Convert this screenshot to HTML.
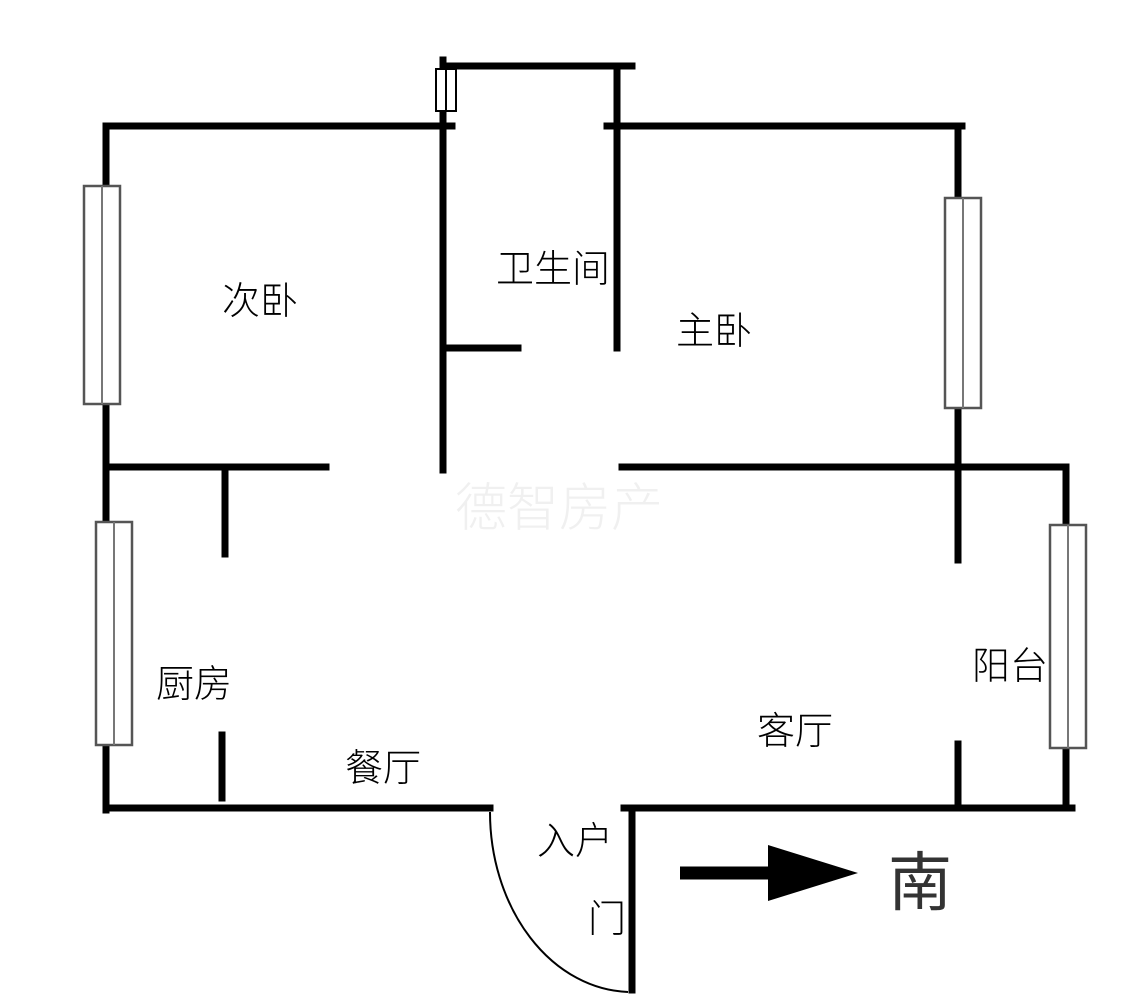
<!DOCTYPE html>
<html><head><meta charset="utf-8"><style>
html,body{margin:0;padding:0;background:#fff;}
svg{display:block;}
text{font-family:"Liberation Sans","Noto Sans CJK SC",sans-serif;font-weight:300;}
</style></head><body>
<svg width="1125" height="1006" viewBox="0 0 1125 1006" xmlns="http://www.w3.org/2000/svg">
<g stroke="#000" stroke-width="7" stroke-linecap="square" fill="none">
<line x1="106" y1="126" x2="452" y2="126"/>
<line x1="607" y1="126" x2="962" y2="126"/>
<line x1="443" y1="66" x2="632" y2="66"/>
<line x1="106" y1="126" x2="106" y2="810"/>
<line x1="443" y1="60" x2="443" y2="470"/>
<line x1="617" y1="66" x2="617" y2="348"/>
<line x1="443" y1="348" x2="518" y2="348"/>
<line x1="958" y1="126" x2="958" y2="560"/>
<line x1="106" y1="467" x2="326" y2="467"/>
<line x1="622" y1="467" x2="1066" y2="467"/>
<line x1="225" y1="467" x2="225" y2="554"/>
<line x1="222" y1="735" x2="222" y2="798"/>
<line x1="1066" y1="467" x2="1066" y2="808"/>
<line x1="958" y1="744" x2="958" y2="806"/>
<line x1="106" y1="808" x2="490" y2="808"/>
<line x1="624" y1="808" x2="1072" y2="808"/>
<line x1="632" y1="808" x2="632" y2="990"/>
</g>
<path d="M490 812 A142 180 0 0 0 628 992" stroke="#000" stroke-width="2" fill="none"/>
<g stroke="#555" stroke-width="2.5" fill="#fff">
<rect x="84" y="186" width="36" height="218"/>
<rect x="96" y="522" width="36" height="223"/>
<rect x="945" y="198" width="36" height="210"/>
<rect x="1050" y="525" width="36" height="223"/>
</g>
<g stroke="#777" stroke-width="2">
<line x1="102" y1="186" x2="102" y2="404"/>
<line x1="114" y1="522" x2="114" y2="745"/>
<line x1="963" y1="198" x2="963" y2="408"/>
<line x1="1068" y1="525" x2="1068" y2="748"/>
</g>
<rect x="436" y="69" width="20" height="42" fill="#fff" stroke="#000" stroke-width="2"/>
<line x1="446" y1="69" x2="446" y2="111" stroke="#000" stroke-width="2"/>
<line x1="680" y1="873" x2="780" y2="873" stroke="#000" stroke-width="13"/>
<polygon points="768,845 858,873 768,901" fill="#000"/>
<text x="888" y="905" font-size="64" fill="#333" style="font-weight:400">南</text>
<g font-size="38" fill="#000">
<text x="222" y="314">次卧</text>
<text x="496" y="282">卫生间</text>
<text x="676" y="344">主卧</text>
<text x="156" y="697">厨房</text>
<text x="345" y="781">餐厅</text>
<text x="757" y="744">客厅</text>
<text x="972" y="679">阳台</text>
<text x="537" y="854">入户</text>
<text x="588" y="932">门</text>
</g>
<text x="455" y="526" font-size="52" fill="#f0f0f0">德智房产</text>
</svg>
</body></html>
